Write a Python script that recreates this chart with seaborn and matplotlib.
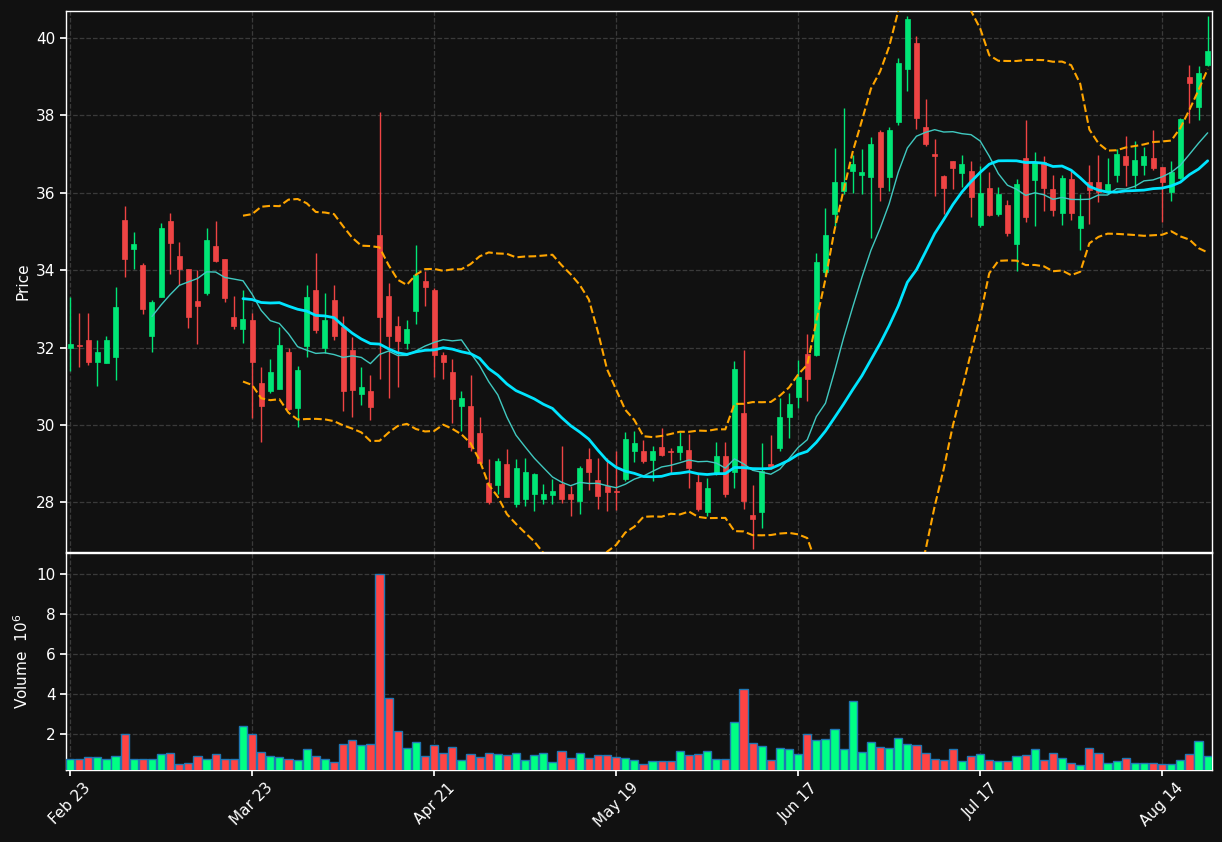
import numpy as np
import pandas as pd
import matplotlib
matplotlib.use("Agg")
import matplotlib.pyplot as plt
import seaborn as sns

opens = [32.0,32.07,32.2,31.64,31.6,31.77,35.29,34.55,34.13,32.29,33.32,35.26,34.38,34.02,33.2,33.4,34.62,34.28,32.78,32.47,
         32.72,31.09,30.87,30.94,31.89,30.45,32.03,33.5,31.98,33.23,32.54,31.94,30.79,30.88,34.9,33.34,32.56,32.13,32.94,33.71,
         33.5,31.82,31.38,30.5,30.49,29.79,28.5,28.46,28.99,27.96,28.09,28.21,28.09,28.18,28.47,28.23,28.04,29.11,28.57,28.43,
         28.29,28.61,29.33,29.32,29.1,29.43,29.32,29.3,29.35,28.54,27.74,28.77,29.19,28.79,30.31,27.67,27.74,28.99,29.41,30.21,
         30.73,31.84,31.8,33.95,35.46,36.04,36.56,36.46,36.4,37.56,36.4,37.83,39.21,39.87,37.71,37.0,36.43,36.82,36.52,36.56,
         35.17,36.13,35.46,35.68,34.68,36.89,36.33,36.8,36.09,35.48,36.35,35.09,36.27,36.27,36.02,36.46,36.96,36.46,36.71,36.89,
         36.66,36.02,36.38,39.0,38.21,39.3]
highs = [33.3,32.9,32.9,32.2,32.3,33.57,35.67,35.0,34.18,33.23,35.22,35.48,34.73,34.02,34.0,35.1,35.26,34.3,33.34,33.48,
         32.9,31.5,31.71,32.54,32.0,31.52,33.63,34.44,33.41,33.62,32.81,32.27,31.49,31.29,38.08,33.66,32.81,32.71,34.66,33.99,
         33.54,31.9,31.71,30.87,31.29,30.2,29.11,29.15,29.38,29.11,29.16,28.77,28.48,28.61,29.46,28.43,28.95,29.41,29.16,29.16,
         29.34,29.82,29.84,29.61,29.46,29.93,29.41,29.82,29.77,28.77,28.63,29.55,29.57,31.65,31.94,28.46,29.53,29.73,30.71,30.82,
         31.67,32.34,34.44,35.6,37.16,38.19,36.98,37.12,37.43,37.62,37.7,39.48,40.57,40.06,38.43,37.4,36.46,36.82,36.98,36.83,
         36.69,36.54,36.16,35.82,36.36,37.87,37.05,36.96,36.46,36.46,36.57,35.98,36.71,36.98,36.89,37.12,37.46,37.34,37.18,37.62,
         36.66,36.82,37.94,39.3,39.27,40.56]
lows = [31.4,31.5,31.55,31.0,31.6,31.16,33.83,34.04,32.86,31.89,33.3,33.9,33.63,32.5,32.1,33.35,34.2,33.17,32.47,32.13,
        30.17,29.55,30.82,30.94,30.38,29.96,31.77,32.38,31.87,32.2,30.35,30.2,30.51,30.13,31.2,30.69,30.97,31.96,32.61,33.08,
        31.24,31.2,30.06,29.84,29.32,28.99,27.95,28.23,28.13,27.88,27.92,27.79,27.95,27.95,27.98,27.64,27.7,28.32,27.83,27.77,
        27.8,28.55,29.04,29.02,28.55,29.21,28.77,29.1,28.37,27.79,27.65,28.72,28.14,28.37,27.83,26.79,27.34,28.86,29.32,29.66,
        30.44,30.63,31.78,33.86,35.15,35.96,36.0,35.96,34.82,35.78,36.04,37.74,38.63,37.65,37.21,35.91,35.46,36.09,36.16,35.38,
        35.11,35.39,35.4,34.88,33.97,35.24,35.15,35.54,35.4,35.18,35.29,34.53,35.2,35.76,35.96,36.27,36.18,36.13,36.45,36.58,
        35.25,35.78,36.36,37.81,37.87,39.29]
closes = [32.1,32.03,31.64,31.9,32.2,33.04,34.29,34.67,32.99,33.19,35.08,34.7,34.03,32.8,33.07,34.77,34.23,33.28,32.57,32.75,
          31.62,30.5,31.38,32.07,30.42,31.43,33.32,32.45,32.72,32.31,30.87,30.91,30.98,30.46,32.79,32.31,32.16,32.49,33.88,33.56,
          31.8,31.64,30.66,30.71,29.44,29.01,28.01,29.08,28.14,28.88,28.79,28.74,28.21,28.29,28.09,28.09,28.88,28.79,28.17,28.27,
          28.27,29.63,29.54,29.07,29.32,29.23,29.3,29.45,28.88,27.83,28.37,29.19,28.23,31.45,28.04,27.56,28.81,28.93,30.2,30.54,
          31.24,31.2,34.21,34.9,36.27,36.27,36.74,36.54,37.25,36.15,37.63,39.35,40.49,37.94,37.27,36.96,36.13,36.63,36.74,35.89,
          36.0,35.42,35.98,34.95,36.22,35.38,36.8,36.13,35.55,36.39,35.48,35.39,36.07,36.03,36.22,37.0,36.71,36.84,36.96,36.64,
          36.29,36.54,37.92,38.84,39.1,39.66]
volumes = [0.73,0.73,0.8,0.8,0.73,0.85,1.97,0.73,0.7,0.7,0.95,1.0,0.45,0.5,0.85,0.7,0.95,0.73,0.7,2.4,
           2.0,1.05,0.85,0.8,0.7,0.65,1.2,0.85,0.7,0.55,1.47,1.7,1.45,1.5,10.0,3.8,2.15,1.25,1.6,0.85,
           1.4,1.0,1.3,0.65,0.95,0.8,1.0,0.95,0.9,1.0,0.65,0.9,1.0,0.55,1.1,0.75,1.0,0.75,0.9,0.9,
           0.8,0.75,0.65,0.45,0.6,0.6,0.6,1.1,0.9,0.95,1.1,0.7,0.7,2.6,4.25,1.55,1.35,0.65,1.25,1.2,
           0.95,2.0,1.7,1.75,2.25,1.2,3.65,1.05,1.6,1.3,1.25,1.8,1.5,1.45,1.0,0.7,0.65,1.2,0.6,0.85,
           0.95,0.65,0.6,0.6,0.85,0.9,1.2,0.65,1.0,0.75,0.5,0.4,1.25,1.0,0.5,0.6,0.75,0.5,0.5,0.5,
           0.45,0.45,0.65,0.95,1.65,0.85]
tick_labels = ["Feb 23", "Mar 23", "Apr 21", "May 19", "Jun 17", "Jul 17", "Aug 14"]
tick_step = 20

df = pd.DataFrame({"Open": opens, "High": highs, "Low": lows, "Close": closes, "Volume": volumes})
df["idx"] = np.arange(len(df))
df["MA10"] = df["Close"].rolling(10).mean()
df["MA20"] = df["Close"].rolling(20).mean()
sd = df["Close"].rolling(20).std()
df["BBU"] = df["MA20"] + 2 * sd
df["BBL"] = df["MA20"] - 2 * sd
up = df["Close"] >= df["Open"]

sns.set_theme(style="dark")
BG = "#111111"
plt.rcParams.update({"figure.facecolor": BG, "axes.facecolor": BG, "axes.edgecolor": "white",
                     "text.color": "white", "xtick.color": "white", "ytick.color": "white",
                     "axes.labelcolor": "white"})
plt.rcParams["font.family"] = ["DejaVu Sans"]

fig = plt.figure(figsize=(12.22, 8.42), dpi=100)
ax = fig.add_axes([0.054, 0.344, 0.938, 0.643])
axv = fig.add_axes([0.054, 0.0855, 0.938, 0.2575], sharex=ax)

cu, cd = "#00e676", "#ef4444"
colors = np.where(up, cu, cd)
ax.vlines(df["idx"], df["Low"], df["High"], colors=colors, linewidth=1, zorder=2)
ax.bar(df["idx"], (df["Close"] - df["Open"]).abs().clip(lower=0.03), bottom=np.minimum(df["Open"], df["Close"]),
       width=0.55, color=colors, edgecolor=colors, linewidth=0.5, zorder=3)
sns.lineplot(data=df, x="idx", y="MA10", ax=ax, color="#40c9c0", linewidth=1, zorder=4)
sns.lineplot(data=df, x="idx", y="MA20", ax=ax, color="#00e5ff", linewidth=2, zorder=4)
sns.lineplot(data=df, x="idx", y="BBU", ax=ax, color="#ffa500", linewidth=1.5, linestyle="--", zorder=4)
sns.lineplot(data=df, x="idx", y="BBL", ax=ax, color="#ffa500", linewidth=1.5, linestyle="--", zorder=4)
ax.set_ylim(26.71, 40.7)
ax.set_xlim(-0.45, 125.5)
ax.set_yticks(np.arange(28, 41, 2))
ax.set_ylabel("Price", fontsize=11)
ax.set_xlabel("")
ax.tick_params(axis="x", labelbottom=False, bottom=False)
ax.tick_params(axis="y", left=True, length=4, labelsize=11)

vcol = np.where(up, "#00ff84", "#ff4444")
axv.bar(df["idx"], df["Volume"], width=0.9, color=vcol, edgecolor="#1f77b4", linewidth=1, zorder=3)
axv.set_ylim(0.17, 11.05)
axv.set_yticks(np.arange(2, 11, 2))
axv.set_ylabel("Volume  $10^{6}$", fontsize=11)
ticks = np.arange(len(tick_labels)) * tick_step
axv.set_xticks(ticks)
axv.set_xticklabels(tick_labels, rotation=45, fontsize=11)
axv.tick_params(axis="x", bottom=True, length=4)
axv.tick_params(axis="y", left=True, length=4, labelsize=11)

for a in (ax, axv):
    a.grid(True, color="#3a3a3a", linestyle="--", linewidth=0.9)
    a.set_axisbelow(True)
    for s in a.spines.values():
        s.set_color("white")
        s.set_linewidth(1)

fig.savefig("out.png", dpi=100, facecolor=BG)
